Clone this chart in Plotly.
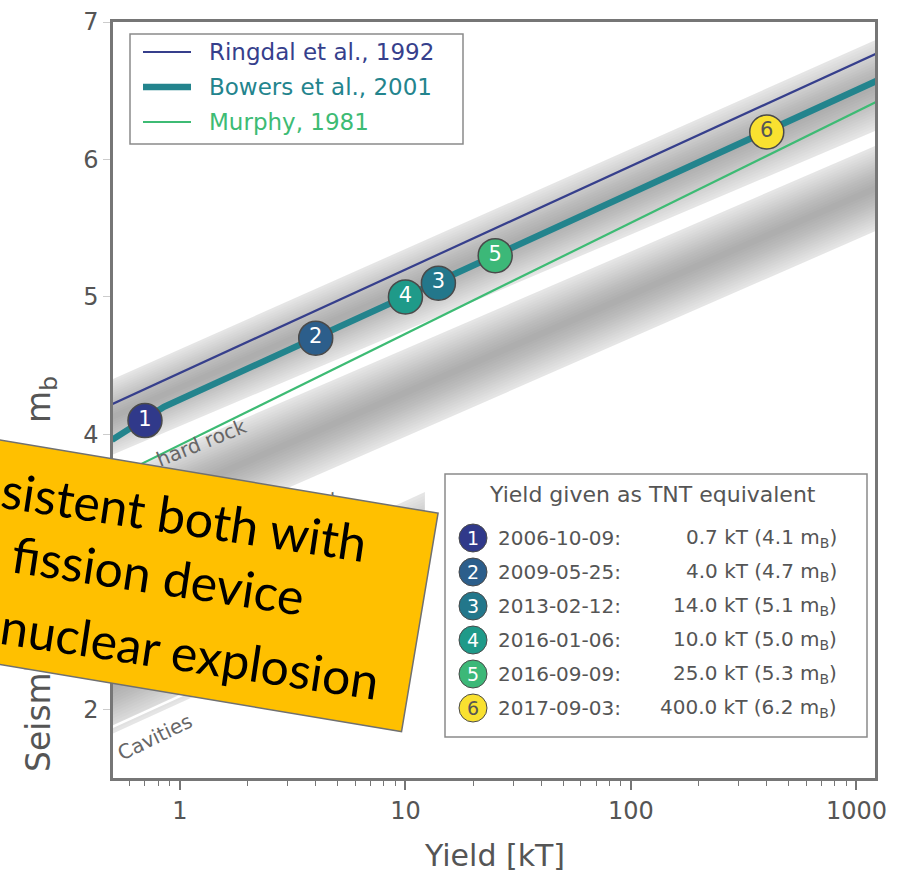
import numpy as np
import plotly.graph_objects as go

# ---------------- data ----------------
ringdal_yield = [0.5, 1300]
ringdal_mb = [4.22, 6.79]
bowers_yield = [0.5, 0.85, 1300]
bowers_mb = [3.96, 4.20, 6.59]
murphy_yield = [0.5, 1300]
murphy_mb = [3.68, 6.44]

hard_yield = [0.5, 1300]
hard_top = [4.40, 6.89]
hard_bot = [3.85, 6.23]
soft_yield = [0.5, 1300]
soft_top = [3.70, 6.12]
soft_bot = [3.05, 5.50]
cav_yield = [0.5, 12.2]
cav_top = [2.54, 3.58]
cav_bot = [1.82, 2.86]

event_ids = ["1", "2", "3", "4", "5", "6"]
event_dates = ["2006-10-09", "2009-05-25", "2013-02-12", "2016-01-06", "2016-09-09", "2017-09-03"]
event_yield = [0.7, 4.0, 14.0, 10.0, 25.0, 400.0]
event_mb = [4.1, 4.7, 5.1, 5.0, 5.3, 6.2]
event_colors = ["#30398a", "#2c5e8b", "#23778b", "#1f9a89", "#3cb878", "#f9e130"]
event_textcolors = ["white", "white", "white", "white", "white", "#555555"]

x_ticks = [1, 10, 100, 1000]
y_ticks = [2, 3, 4, 5, 6, 7]

# ---------------- layout geometry ----------------
W, H = 907, 873
L, R, T, B = 113, 875, 22, 778


def px(x):
    return (x - L) / (R - L)


def py(y):
    return (B - y) / (B - T)


FONT = "DejaVu Sans"
GREY = "#555555"
FRAME = "#767676"

fig = go.Figure()


def add_band(yields, top, bot, n=16):
    top = np.array(top, float)
    bot = np.array(bot, float)
    c = (top + bot) / 2
    for k in range(n):
        f = 1.0 - k * 0.92 / (n - 1)
        t = c + (top - c) * f
        b = c + (bot - c) * f
        alpha = 0.10 if k == 0 else 0.017
        fig.add_trace(go.Scatter(
            x=[yields[0], yields[1], yields[1], yields[0], yields[0]],
            y=[b[0], b[1], t[1], t[0], b[0]],
            mode="lines", fill="toself", line=dict(width=0),
            fillcolor=f"rgba(0,0,0,{alpha})", hoverinfo="skip", showlegend=False))


add_band(hard_yield, hard_top, hard_bot)
add_band(soft_yield, soft_top, soft_bot)
add_band(cav_yield, cav_top, cav_bot)
# white separation line near the bottom of the cavity band
fig.add_trace(go.Scatter(x=cav_yield, y=[v + 0.05 for v in cav_bot], mode="lines",
                         line=dict(color="white", width=2.5), hoverinfo="skip", showlegend=False))

RING_C, BOW_C, MUR_C = "#363f8c", "#23848d", "#3dbb74"
fig.add_trace(go.Scatter(x=ringdal_yield, y=ringdal_mb, mode="lines",
                         line=dict(color=RING_C, width=2.2), showlegend=False))
fig.add_trace(go.Scatter(x=bowers_yield, y=bowers_mb, mode="lines",
                         line=dict(color=BOW_C, width=6.5), showlegend=False))
fig.add_trace(go.Scatter(x=murphy_yield, y=murphy_mb, mode="lines",
                         line=dict(color=MUR_C, width=2.2), showlegend=False))

for i in range(len(event_ids)):
    fig.add_trace(go.Scatter(
        x=[event_yield[i]], y=[event_mb[i]], mode="markers+text",
        text=[event_ids[i]], textposition="middle center",
        textfont=dict(family=FONT, size=21, color=event_textcolors[i]),
        marker=dict(size=34, color=event_colors[i], line=dict(color="#4a4a4a", width=1.5)),
        showlegend=False))

shapes = []
annotations = []


def note(x, y, text, size, color=GREY, angle=0, family=FONT, xa="center", ya="middle", **kw):
    d = dict(xref="paper", yref="paper", x=px(x), y=py(y), text=text, textangle=angle, showarrow=False,
             xanchor=xa, yanchor=ya, font=dict(family=family, size=size, color=color))
    d.update(kw)
    annotations.append(d)


# axis titles
note(40, 374, "Seismic magnitude&#8195;m<sub>b</sub>", 33, angle=-90, ya="top")
note(494, 855, "Yield [kT]", 30)

# band labels
note(201, 443, "hard rock", 20, color="#666666", angle=-22)
note(275, 522, "alluvium, dry", 20, color="#666666", angle=-24)
note(155, 737, "Cavities", 20, color="#666666", angle=-26)

# top-left legend
shapes.append(dict(type="rect", xref="paper", yref="paper", x0=px(130), x1=px(463), y0=py(144), y1=py(34),
                   fillcolor="white", line=dict(color="#8a8a8a", width=1.5), layer="above"))
leg_names = ["Ringdal et al., 1992", "Bowers et al., 2001", "Murphy, 1981"]
leg_colors = [RING_C, BOW_C, MUR_C]
leg_widths = [2.2, 6.5, 2.2]
for k, (nm, col, lw) in enumerate(zip(leg_names, leg_colors, leg_widths)):
    yy = 52 + 35 * k
    shapes.append(dict(type="line", xref="paper", yref="paper", x0=px(143), x1=px(191), y0=py(yy), y1=py(yy),
                       line=dict(color=col, width=lw), layer="above"))
    note(207, yy, nm, 23, color=col, xa="left")

# event legend
shapes.append(dict(type="rect", xref="paper", yref="paper", x0=px(445), x1=px(867), y0=py(737), y1=py(474),
                   fillcolor="white", line=dict(color="#8a8a8a", width=1.5), layer="above"))
note(652, 494, "Yield given as TNT equivalent", 22)
for i in range(len(event_ids)):
    yy = 538 + 34 * i
    r = 14
    shapes.append(dict(type="circle", xref="paper", yref="paper", x0=px(473 - r), x1=px(473 + r),
                       y0=py(yy + r), y1=py(yy - r), fillcolor=event_colors[i],
                       line=dict(color="#4a4a4a", width=1), layer="above"))
    note(473, yy, event_ids[i], 19, color=event_textcolors[i])
    note(496, yy, event_dates[i] + ":", 20, xa="left")
    note(839, yy, f"{event_yield[i]:.1f} kT ({event_mb[i]:.1f} m<sub>B</sub>)", 20, xa="right")

# orange overlay box (drawn on top)
ang = 9.5
ca, sa = np.cos(np.radians(ang)), np.sin(np.radians(ang))
bw = 640
cx, cy = 419 - bw / 2 * ca, 622 - bw / 2 * sa
note(cx, cy, " ", 10, angle=ang, width=bw, height=220, bgcolor="#FFC000", bordercolor="#707070",
     borderwidth=1.5, borderpad=0)
box_lines = ["sistent both with", "fission device", "nuclear explosion"]
box_centers = [(184, 516), (158, 575), (190, 653)]
for txt, (bx, by) in zip(box_lines, box_centers):
    note(bx, by, txt, 50, color="black", angle=8.5, family="Lato")

fig.update_layout(
    width=W, height=H, margin=dict(l=L, r=W - R, t=T, b=H - B, autoexpand=False),
    paper_bgcolor="white", plot_bgcolor="white", showlegend=False,
    shapes=shapes, annotations=annotations,
    xaxis=dict(type="log", range=[np.log10(0.505), np.log10(1208)], tickvals=x_ticks, automargin=False,
               ticktext=[str(v) for v in x_ticks], ticks="outside", ticklen=9, tickwidth=1.5,
               tickcolor=FRAME, showline=True, linecolor=FRAME, linewidth=2.5, mirror=True,
               showgrid=False, zeroline=False, tickfont=dict(family=FONT, size=24, color=GREY),
               minor=dict(ticks="outside", ticklen=5, tickwidth=1.2, tickcolor=FRAME, dtick="D1", showgrid=False)),
    yaxis=dict(range=[1.5, 7], tickvals=y_ticks, ticks="outside", ticklen=7, tickwidth=1.2, automargin=False,
               tickcolor="#cccccc", showline=True, linecolor=FRAME, linewidth=2.5, mirror=True,
               showgrid=False, zeroline=False, tickfont=dict(family=FONT, size=24, color=GREY)),
)

fig.write_html("out.html", config={"displayModeBar": False},
               post_script="document.body.style.margin='0px';")
